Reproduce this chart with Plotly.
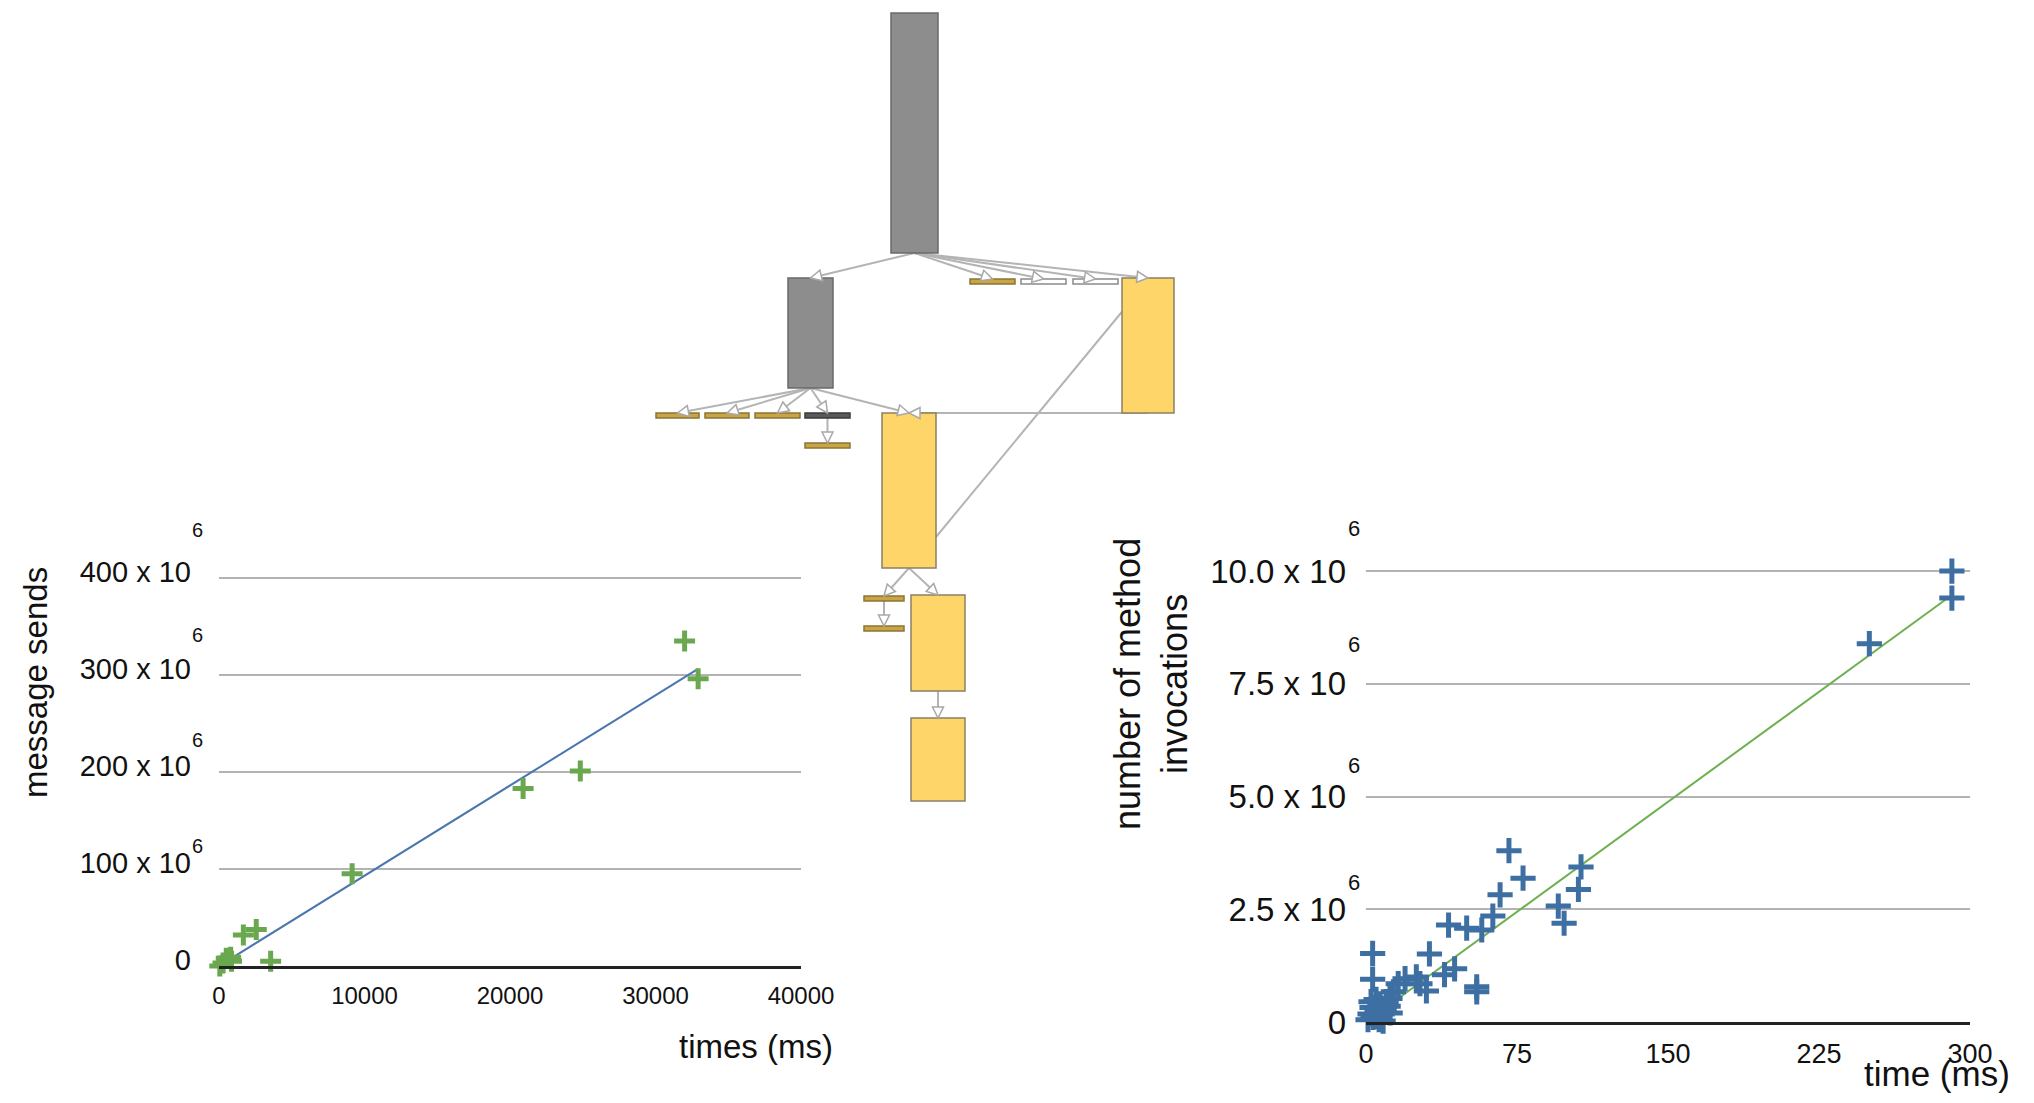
import plotly.graph_objects as go

W, H = 2034, 1103          # browser window
OFF = 8                    # page body margin
FW, FH = W - 2 * OFF, H - 2 * OFF   # figure size
FONT = "Liberation Sans, Arial, Helvetica, sans-serif"


def px(xp):
    return (xp - OFF) / FW


def py(yp):
    return 1 - (yp - OFF) / FH


# ---------------- left chart: message sends vs time ----------------
ms_time = [32000, 32930, 20900, 24830, 9150, 1674, 2560, 3550, 860, 800, 282, 55, 500]
ms_sends = [335, 296, 183, 201, 95, 32, 37.5, 4.8, 4.8, 9, 3.2, 0, 8]          # x 10^6
ms_trend_x = [100, 32900]
ms_trend_y = [1, 306]
left_xticks = [0, 10000, 20000, 30000, 40000]
left_yticks = [0, 100, 200, 300, 400]
left_yticktext = ["0", "100 x 10", "200 x 10", "300 x 10", "400 x 10"]

# ---------------- right chart: method invocations vs time ----------------
inv_time = [291, 291, 250, 71, 78, 66.6, 63, 41, 50, 57.5, 95.5, 98.4, 105.5, 106.8,
            31.5, 3.3, 3.3, 44, 39, 55, 55, 30, 25, 19.4, 26.8, 16, 13.6, 11.9,
            1.0, 2.0, 3.0, 4.0, 4.5, 5.5, 6.5, 7.0, 8.0, 9.0, 10.0, 2.5, 6.0, 8.5,
            11.0, 12.0, 3.5, 5.0]
inv_count = [10.0, 9.40, 8.39, 3.80, 3.19, 2.82, 2.35, 2.15, 2.08, 2.04, 2.57, 2.19, 2.94, 3.44,
             1.51, 1.52, 0.95, 1.18, 1.05, 0.78, 0.67, 0.69, 1.0, 0.96, 0.85, 0.85, 0.67, 0.52,
             0.05, 0.18, 0.32, -0.08, 0.12, 0.25, 0.05, 0.40, 0.18, 0.30, 0.45, 0.45, -0.12, 0.02,
             0.35, 0.20, 0.10, 0.50]                                              # x 10^6
inv_trend_x = [3, 291]
inv_trend_y = [0.1, 9.47]
right_xticks = [0, 75, 150, 225, 300]
right_yticks = [0, 2.5, 5.0, 7.5, 10.0]
right_yticktext = ["0", "2.5 x 10", "5.0 x 10", "7.5 x 10", "10.0 x 10"]

# ---------------- tree diagram (pixel space of the page) ----------------
node_x0 = [891, 788, 970, 1021, 1073, 1122, 656, 705, 755, 805, 805, 882, 864, 864, 911, 911]
node_x1 = [938, 833, 1015, 1066, 1118, 1174, 699, 749, 800, 850, 850, 936, 904, 904, 965, 965]
node_y0 = [13, 278, 279, 279, 279, 278, 413, 413, 413, 413, 443, 413, 596, 626, 595, 718]
node_y1 = [253, 388, 284, 284, 284, 413, 418, 418, 418, 418, 448, 568, 601, 631, 691, 801]
node_kind = ["gray", "gray", "gold", "white", "white", "yellow", "gold", "gold", "gold",
             "dark", "gold", "yellow", "gold", "gold", "yellow", "yellow"]
edge_src = [0, 0, 0, 0, 0, 1, 1, 1, 1, 1, 9, 5, 11, 11, 12, 14, 11]
edge_tgt = [1, 2, 3, 4, 5, 6, 7, 8, 9, 11, 10, 11, 12, 14, 13, 15, 5]
edge_src_anchor = [(0.5, 1)] * 16 + [(1.0, 0.8)]
edge_tgt_anchor = [(0.5, 0)] * 16 + [(0.0, 0.25)]
edge_arrow = [True] * 16 + [False]

kind_style = {
    "gray": ("#8d8d8d", "#6a6a6a"),
    "yellow": ("#fdd568", "#8a8064"),
    "gold": ("#c9a545", "#8a7535"),
    "white": ("#ffffff", "#8a8a8a"),
    "dark": ("#5a5a5a", "#3a3a3a"),
}

fig = go.Figure()

fig.add_trace(go.Scatter(x=ms_trend_x, y=ms_trend_y, mode="lines",
                         line=dict(color="#4a76ae", width=2), xaxis="x", yaxis="y",
                         hoverinfo="skip"))
fig.add_trace(go.Scatter(x=ms_time, y=ms_sends, mode="markers", xaxis="x", yaxis="y",
                         marker=dict(symbol="cross-thin", size=15,
                                     line=dict(color="#6aa850", width=5)),
                         cliponaxis=False))

fig.add_trace(go.Scatter(x=inv_trend_x, y=inv_trend_y, mode="lines",
                         line=dict(color="#6db04f", width=2), xaxis="x2", yaxis="y2",
                         hoverinfo="skip"))
fig.add_trace(go.Scatter(x=inv_time, y=inv_count, mode="markers", xaxis="x2", yaxis="y2",
                         marker=dict(symbol="cross-thin", size=18,
                                     line=dict(color="#3e6fa3", width=5)),
                         cliponaxis=False))

fig.add_trace(go.Scatter(x=[None], y=[None], xaxis="x3", yaxis="y3", hoverinfo="skip"))

shapes = []


def anchor(i, a):
    fx, fy = a
    return (node_x0[i] + fx * (node_x1[i] - node_x0[i]),
            node_y0[i] + fy * (node_y1[i] - node_y0[i]))


heads = []
for s, t, sa, ta, arr in zip(edge_src, edge_tgt, edge_src_anchor, edge_tgt_anchor, edge_arrow):
    x0, y0 = anchor(s, sa)
    x1, y1 = anchor(t, ta)
    shapes.append(dict(type="line", xref="x3", yref="y3", x0=x0, y0=y0, x1=x1, y1=y1,
                       line=dict(color="#b4b4b4", width=2), layer="above"))
    if arr:
        dx, dy = x1 - x0, y1 - y0
        L = (dx * dx + dy * dy) ** 0.5
        ux, uy = dx / L, dy / L
        bx, by = x1 - 11 * ux, y1 - 11 * uy
        qx, qy = -uy, ux
        path = "M{:.1f},{:.1f} L{:.1f},{:.1f} L{:.1f},{:.1f} Z".format(
            x1, y1, bx + 5.5 * qx, by + 5.5 * qy, bx - 5.5 * qx, by - 5.5 * qy)
        heads.append(dict(type="path", xref="x3", yref="y3", path=path,
                          fillcolor="white", line=dict(color="#a8a8a8", width=1.5),
                          layer="above"))

for x0, x1, y0, y1, k in zip(node_x0, node_x1, node_y0, node_y1, node_kind):
    fc, lc = kind_style[k]
    shapes.append(dict(type="rect", xref="x3", yref="y3", x0=x0, x1=x1, y0=y0, y1=y1,
                       fillcolor=fc, line=dict(color=lc, width=1.5), layer="above"))
shapes.extend(heads)

annotations = []
left_sup_shift = [0, 23, 32, 40, 48]
for v, sh in zip(left_yticks, left_sup_shift):
    if v == 0:
        continue
    annotations.append(dict(text="6", x=px(197), xref="paper", y=v, yref="y", yshift=sh,
                            showarrow=False, xanchor="center", yanchor="middle",
                            font=dict(family=FONT, size=20, color="#111")))
right_sup_shift = [0, 27, 31, 39, 43]
for v, sh in zip(right_yticks, right_sup_shift):
    if v == 0:
        continue
    annotations.append(dict(text="6", x=px(1354), xref="paper", y=v, yref="y2", yshift=sh,
                            showarrow=False, xanchor="center", yanchor="middle",
                            font=dict(family=FONT, size=22, color="#111")))

annotations += [
    dict(text="message sends", x=px(36), y=py(683), xref="paper", yref="paper",
         textangle=-90, showarrow=False, xanchor="center", yanchor="middle",
         font=dict(family=FONT, size=33, color="#111")),
    dict(text="times (ms)", x=px(756), y=py(1046), xref="paper", yref="paper",
         showarrow=False, xanchor="center", yanchor="middle",
         font=dict(family=FONT, size=33, color="#111")),
    dict(text="number of method<br>invocations", x=px(1151), y=py(684),
         xref="paper", yref="paper", textangle=-90, showarrow=False,
         xanchor="center", yanchor="middle",
         font=dict(family=FONT, size=36, color="#111")),
    dict(text="time (ms)", x=px(1937), y=py(1073), xref="paper", yref="paper",
         showarrow=False, xanchor="center", yanchor="middle",
         font=dict(family=FONT, size=35, color="#111")),
]

fig.update_layout(
    width=FW, height=FH, autosize=False,
    margin=dict(l=0, r=0, t=0, b=0, pad=0, autoexpand=False),
    paper_bgcolor="white", plot_bgcolor="rgba(0,0,0,0)",
    showlegend=False,
    font=dict(family=FONT, color="#111"),
    shapes=shapes, annotations=annotations,
    xaxis=dict(domain=[px(219), px(801)], range=[0, 40000], anchor="y",
               tickvals=left_xticks, ticktext=[str(v) for v in left_xticks],
               showgrid=False, zeroline=False, showline=True, linecolor="#222",
               linewidth=3, ticks="", ticklabelstandoff=6, automargin=False,
               tickfont=dict(family=FONT, size=24, color="#111")),
    yaxis=dict(domain=[py(966), py(574)], range=[0, 404.1], anchor="x",
               tickvals=left_yticks, ticktext=left_yticktext,
               showgrid=True, gridcolor="#b3b3b3", gridwidth=2, zeroline=False,
               showline=False, ticks="", ticklabelstandoff=27, ticklabelshift=-6,
               automargin=False,
               tickfont=dict(family=FONT, size=29, color="#111")),
    xaxis2=dict(domain=[px(1366), px(1970)], range=[0, 300], anchor="y2",
                tickvals=right_xticks, ticktext=[str(v) for v in right_xticks],
                showgrid=False, zeroline=False, showline=True, linecolor="#222",
                linewidth=3, ticks="", ticklabelstandoff=6, automargin=False,
                tickfont=dict(family=FONT, size=27, color="#111")),
    yaxis2=dict(domain=[py(1022), py(567)], range=[0, 10.09], anchor="x2",
                tickvals=right_yticks, ticktext=right_yticktext,
                showgrid=True, gridcolor="#b3b3b3", gridwidth=2, zeroline=False,
                showline=False, ticks="", ticklabelstandoff=19, automargin=False,
                tickfont=dict(family=FONT, size=33, color="#111")),
    xaxis3=dict(domain=[0, 1], range=[OFF, W - OFF], anchor="y3", visible=False,
                fixedrange=True, automargin=False),
    yaxis3=dict(domain=[0, 1], range=[H - OFF, OFF], anchor="x3", visible=False,
                fixedrange=True, automargin=False),
)

fig.write_html("out.html")
